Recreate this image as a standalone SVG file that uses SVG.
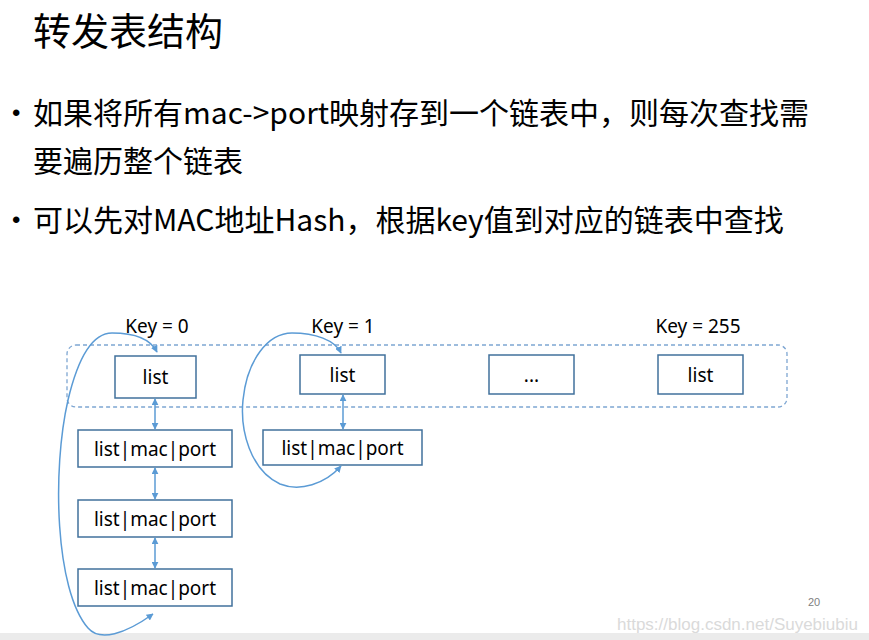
<svg xmlns="http://www.w3.org/2000/svg" width="869" height="640" viewBox="0 0 869 640">
<defs>
<style>
.t{font-family:"Noto Sans CJK SC","Noto Sans",sans-serif;fill:#000}
.bu{font-family:"Liberation Sans",sans-serif;font-size:24px;fill:#000}
.lb{font-family:"Noto Sans","Liberation Sans",sans-serif;font-size:19px;fill:#000;text-anchor:middle}
.box{fill:#fff;stroke:#41719c;stroke-width:1.5}
.bt{font-family:"Noto Sans","Liberation Sans",sans-serif;font-size:19px;fill:#000;text-anchor:middle}
.ar{fill:none;stroke:#5b9bd5;stroke-width:1.5}
</style>
<marker id="ah" viewBox="0 0 10 10" refX="9" refY="5" markerWidth="7" markerHeight="7" orient="auto-start-reverse" markerUnits="userSpaceOnUse">
<path d="M0,0 L10,5 L0,10 z" fill="#5b9bd5"/>
</marker>
</defs>
<rect width="869" height="640" fill="#fff"/>
<rect x="0" y="633" width="869" height="7" fill="#ebebeb"/>
<text class="t" x="33" y="45" font-size="38">转发表结构</text>
<text class="bu" x="12" y="121">•</text>
<text class="t" x="33" y="124" font-size="30">如果将所有mac-&gt;port映射存到一个链表中，则每次查找需</text>
<text class="t" x="33" y="172" font-size="30">要遍历整个链表</text>
<text class="bu" x="12" y="228">•</text>
<text class="t" x="33" y="231" font-size="30">可以先对MAC地址Hash，根据key值到对应的链表中查找</text>

<g id="bucket">
<rect x="67" y="345" width="720" height="62" rx="9" fill="none" stroke="#7ea6d2" stroke-width="1.3" stroke-dasharray="4,3"/>
</g>
<g id="key0"><text class="lb" x="157" y="333">Key = 0</text></g>
<g id="key1"><text class="lb" x="343" y="333">Key = 1</text></g>
<g id="key255"><text class="lb" x="698" y="333">Key = 255</text></g>

<g id="list0"><rect class="box" x="115" y="356" width="81" height="42"/><text class="bt" x="155.5" y="384">list</text></g>
<g id="list1"><rect class="box" x="300" y="355" width="85" height="39"/><text class="bt" x="342.5" y="382">list</text></g>
<g id="listdots"><rect class="box" x="489" y="355" width="85" height="39"/><text class="bt" x="531.5" y="382">...</text></g>
<g id="list255"><rect class="box" x="658" y="355" width="85" height="39"/><text class="bt" x="700.5" y="382">list</text></g>

<g id="n0a"><rect class="box" x="78" y="430" width="154" height="37"/><text class="bt" x="155" y="456">list|mac|port</text></g>
<g id="n0b"><rect class="box" x="78" y="500" width="154" height="37"/><text class="bt" x="155" y="526">list|mac|port</text></g>
<g id="n0c"><rect class="box" x="78" y="569" width="154" height="37"/><text class="bt" x="155" y="595">list|mac|port</text></g>
<g id="n1a"><rect class="box" x="263" y="430" width="159" height="35"/><text class="bt" x="342.5" y="455">list|mac|port</text></g>

<g id="connectors">
<line class="ar" x1="155" y1="399" x2="155" y2="429" marker-start="url(#ah)" marker-end="url(#ah)"/>
<line class="ar" x1="155" y1="468" x2="155" y2="499" marker-start="url(#ah)" marker-end="url(#ah)"/>
<line class="ar" x1="155" y1="538" x2="155" y2="568" marker-start="url(#ah)" marker-end="url(#ah)"/>
<line class="ar" x1="343" y1="395" x2="343" y2="429" marker-start="url(#ah)" marker-end="url(#ah)"/>
<path class="ar" d="M153,614 C125,634 100,642 88,628 C55,590 52,470 68,400 C78,358 92,333 112,333 C133,333 150,338 157,352" marker-start="url(#ah)" marker-end="url(#ah)"/>
<path class="ar" d="M341,466 C325,484 300,492 280,484 C250,470 240,430 243,400 C247,360 268,333 292,333 C315,333 335,340 341,353" marker-start="url(#ah)" marker-end="url(#ah)"/>
</g>

<text x="808" y="606" font-family="Liberation Sans,sans-serif" font-size="11" fill="#808080">20</text>
<text x="858" y="630" text-anchor="end" font-family="Liberation Sans,sans-serif" font-size="17" fill="#dadada">https://blog.csdn.net/Suyebiubiu</text>
</svg>
